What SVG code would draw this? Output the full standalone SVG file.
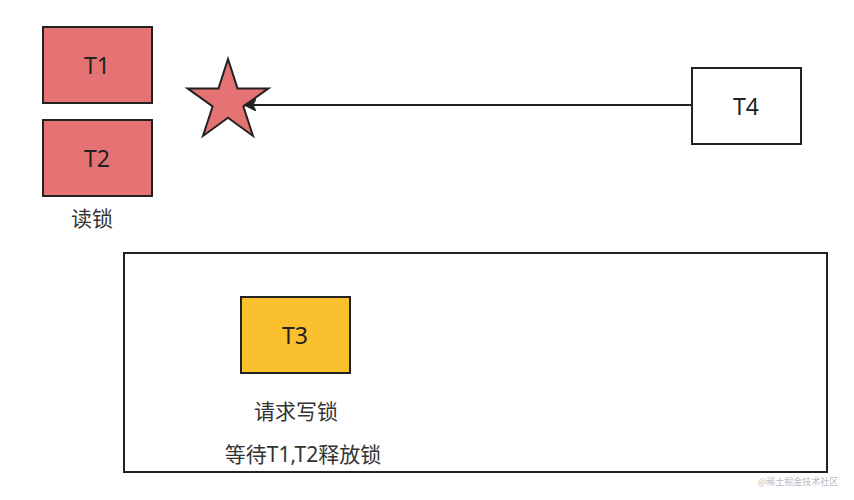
<svg xmlns="http://www.w3.org/2000/svg" width="854" height="500" viewBox="0 0 854 500">
<style>
.box{stroke:#222;stroke-width:2}
.red{fill:#e57373}
.t{font-family:"Noto Sans","Noto Sans CJK SC",sans-serif;font-size:23px;fill:#222;text-anchor:middle;dominant-baseline:central}
.lbl{font-family:"Noto Sans","Noto Sans CJK SC",sans-serif;font-size:21px;fill:#333;text-anchor:middle;dominant-baseline:central}
</style>
<defs>
<marker id="ah" markerWidth="12" markerHeight="12" viewBox="0 0 12 12" refX="11" refY="6" orient="auto" markerUnits="userSpaceOnUse">
<path d="M0,0 L12,6 L0,12 L3,6 Z" fill="#222" stroke="#222" stroke-width="1"/>
</marker>
</defs>
<rect width="854" height="500" fill="#fff"/>
<g id="container"><rect x="124" y="253" width="703" height="219" fill="none" class="box"/></g>
<g id="t1"><rect x="43" y="27" width="109" height="76" class="box red"/><text x="97" y="65" class="t">T1</text></g>
<g id="t2"><rect x="43" y="120" width="109" height="76" class="box red"/><text x="97" y="158" class="t">T2</text></g>
<g id="readlock"><text x="92" y="218" class="lbl">读锁</text></g>
<g id="star"><polygon points="228,59 237.5,88.4 268.4,88.4 243.4,106.5 253,136 228,117.8 203,136 212.6,106.5 187.6,88.4 218.5,88.4" class="box red"/></g>
<g id="t4"><rect x="692" y="68" width="109" height="76" fill="#fff" class="box"/><text x="746" y="106" class="t">T4</text></g>
<g id="t3"><rect x="241" y="297" width="109" height="76" fill="#fbc02d" class="box"/><text x="295" y="335" class="t">T3</text></g>
<g id="t3labels"><text x="296" y="411" class="lbl">请求写锁</text><text x="303" y="454" class="lbl" font-size="22">等待T1,T2释放锁</text></g>
<g id="connectors"><line x1="692" y1="105" x2="245" y2="105" stroke="#222" stroke-width="2" marker-end="url(#ah)"/></g>
<text x="798" y="481" font-family="Noto Sans CJK SC,sans-serif" font-size="9" fill="#bbb" text-anchor="middle" dominant-baseline="central">@稀土掘金技术社区</text>
</svg>
